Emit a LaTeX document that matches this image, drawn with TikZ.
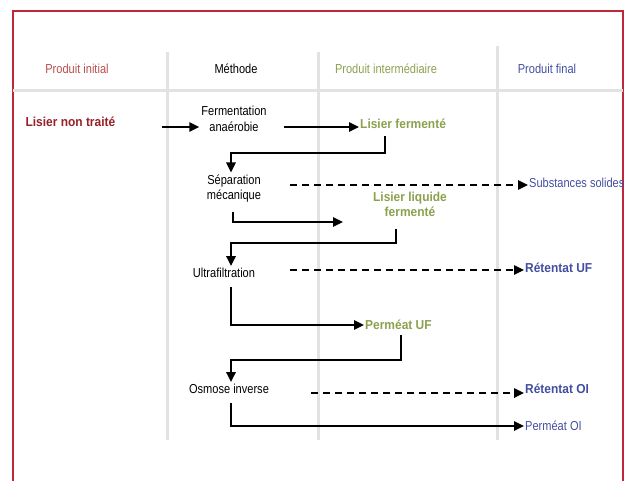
\documentclass[tikz,border=0pt]{standalone}
\usepackage{fontspec}
\setmainfont[FakeStretch=0.85,BoldFeatures={FakeStretch=0.92}]{Liberation Sans}
\usepackage{tikz}
\usetikzlibrary{positioning,arrows.meta}

\definecolor{framered}{RGB}{190,40,56}
\definecolor{initred}{RGB}{186,76,76}
\definecolor{rawred}{RGB}{150,32,40}
\definecolor{midgreen}{RGB}{140,160,78}
\definecolor{finblue}{RGB}{66,78,160}
\definecolor{rulegrey}{RGB}{226,226,226}

\begin{document}
\begin{tikzpicture}[x=1pt,y=-1pt,
    font=\fontsize{13}{15.5}\selectfont,
    flow/.style={line width=1.7pt,-{Triangle[length=10pt,width=9.5pt]}},
    side/.style={flow,dash pattern=on 7pt off 5pt},
    meth/.style={align=center,inner sep=2pt},
    mid/.style={text=midgreen,font=\fontsize{13}{15.5}\selectfont\bfseries,align=center},
    fin/.style={text=finblue,anchor=west,inner sep=1pt}]
  \useasboundingbox (0,0) rectangle (627,480);

  % frame and grid
  \draw[framered,line width=1.3pt] (13,485) -- (13,11) -- (623,11) -- (623,485);
  \draw[rulegrey,line width=3pt] (13,90) -- (623,90);
  \draw[rulegrey,line width=3pt] (167,52) -- (167,440);
  \draw[rulegrey,line width=3pt] (318,52) -- (318,440);
  \draw[rulegrey,line width=3pt] (497,46) -- (497,440);

  % column heads
  \node[text=initred] (hinit) at (77,69) {Produit initial};
  \node (hmeth) at (236,69) {Méthode};
  \node[text=midgreen] (hmid) at (386,69) {Produit intermédiaire};
  \node[text=finblue] (hfin) at (547,69) {Produit final};

  % products and methods
  \node[text=rawred,font=\fontsize{13}{15.5}\selectfont\bfseries,anchor=west] (raw) at (22,122) {Lisier non traité};
  \node[meth] (ferm) at (234,119) {Fermentation\\anaérobie};
  \node[mid,anchor=west,inner sep=1pt] (fermented) at (359,124) {Lisier fermenté};
  \node[meth] (sep) at (234,188.5) {Séparation\\mécanique};
  \node[fin] (solid) at (528,183) {Substances solides};
  \node[mid] (liquid) at (410,204.5) {Lisier liquide\\fermenté};
  \node[meth] (uf) at (224,273) {Ultrafiltration};
  \node[fin,font=\fontsize{13}{15.5}\selectfont\bfseries] (ufret) at (524,268) {Rétentat UF};
  \node[mid,anchor=west,inner sep=1pt] (ufperm) at (364,325) {Perméat UF};
  \node[meth] (oi) at (229,389) {Osmose inverse};
  \node[fin,font=\fontsize{13}{15.5}\selectfont\bfseries] (oiret) at (524,389) {Rétentat OI};
  \node[fin] (oiperm) at (524,426) {Perméat OI};

  % connector points
  \coordinate (rawout) at (162,127);
  \coordinate (fermout) at (284,127);
  \coordinate (fermentedout) at (385,136);
  \coordinate (sepin) at (231,153);
  \coordinate (solidout) at (290,185);
  \coordinate (sepout) at (233,212);
  \coordinate (sepend) at (343,222);
  \coordinate (liquidout) at (396,229);
  \coordinate (ufin) at (231,243);
  \coordinate (ufretout) at (290,270);
  \coordinate (ufout) at (231,287);
  \coordinate (ufpermout) at (401,335);
  \coordinate (oiin) at (231,360);
  \coordinate (oiretout) at (311,393);
  \coordinate (oiout) at (231,403);

  % flows
  \draw[flow] (rawout) -- (rawout -| ferm.west);
  \draw[flow] (fermout) -- (fermout -| fermented.west);
  \draw[flow] (fermentedout) |- (sepin) -- (sepin |- sep.north);
  \draw[side] (solidout) -- (solidout -| solid.west);
  \draw[flow] (sepout) |- (sepend);
  \draw[flow] (liquidout) |- (ufin) -- (ufin |- uf.north);
  \draw[side] (ufretout) -- (ufretout -| ufret.west);
  \draw[flow] (ufout) |- (ufperm.west);
  \draw[flow] (ufpermout) |- (oiin) -- (oiin |- oi.north);
  \draw[side] (oiretout) -- (oiretout -| oiret.west);
  \draw[flow] (oiout) |- (oiperm.west);
\end{tikzpicture}
\end{document}
